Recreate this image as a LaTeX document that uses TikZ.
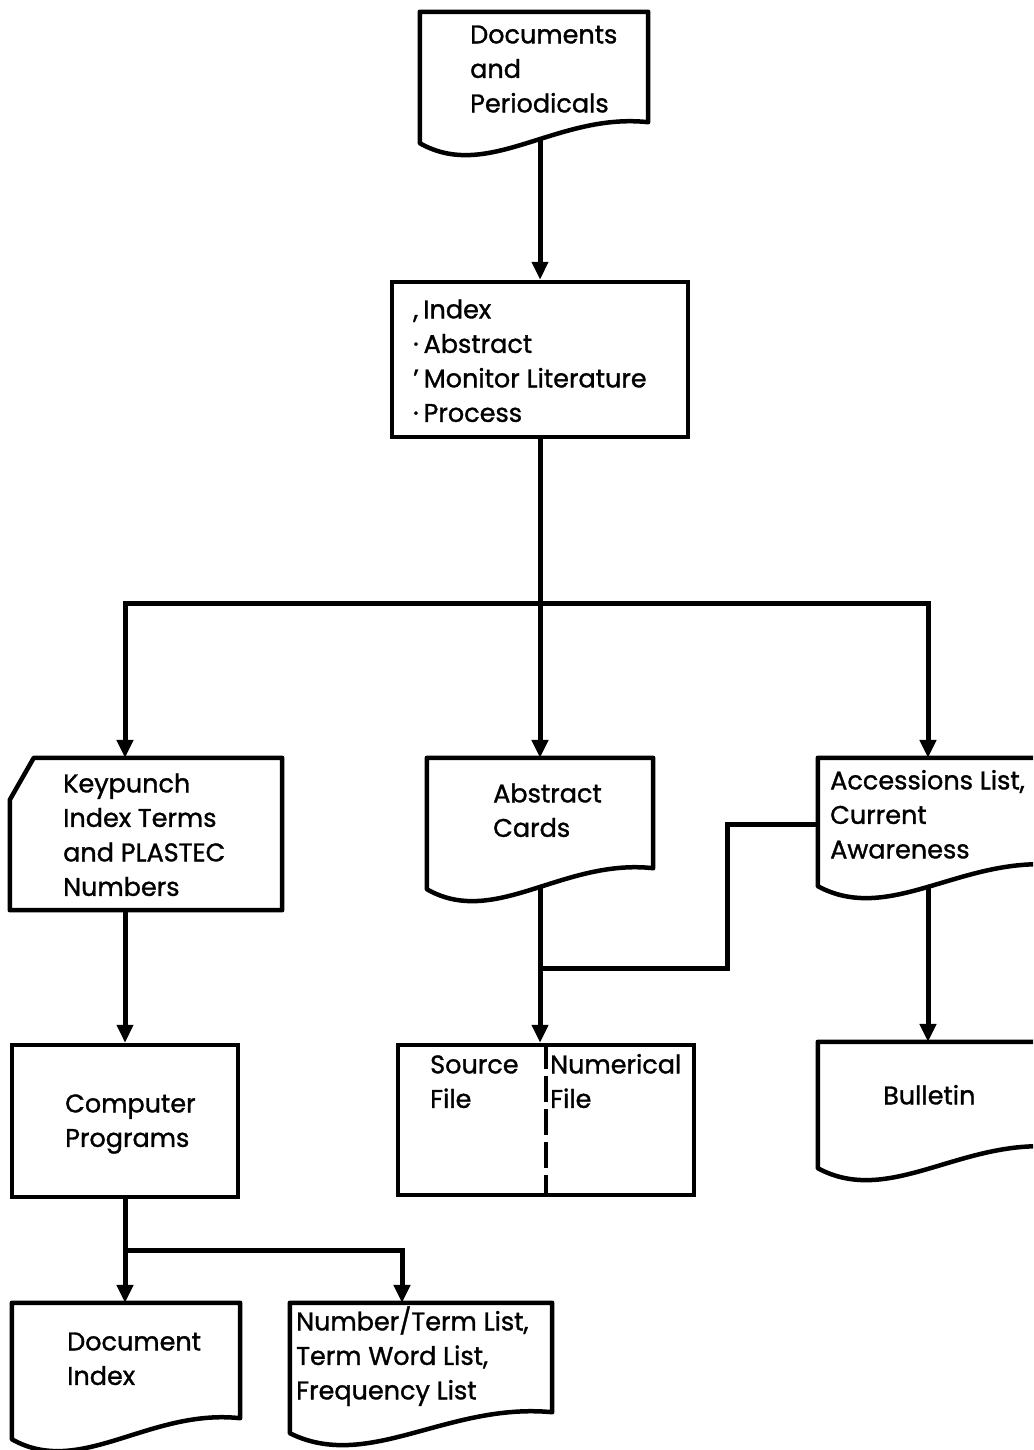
\documentclass[tikz,border=0pt]{standalone}
\usepackage{fontspec}
\setmainfont{Poppins}[FakeBold=1.2]
\usetikzlibrary{arrows.meta,calc,backgrounds}
\tikzset{
  box/.style={rectangle,draw,line width=4.5pt,fill=white,inner sep=0pt},
  docnode/.style={rectangle,inner sep=0pt},
  outline/.style={line width=4.5pt,line join=round,fill=white},
  lbl/.style={anchor=north west,align=left,inner sep=0pt,font=\lblfont},
  link/.style={line width=5pt},
  edge/.style={link,-{Triangle[length=18pt,width=16pt]}},
  divider/.style={line width=3.5pt,dash pattern=on 26pt off 7pt},
}
\newcommand{\lblfont}{\fontsize{25.5}{34.5}\selectfont}
\newcommand{\mk}{\hspace{5pt}}
% document symbol: wavy bottom, left corner lower than the right one
\newcommand{\docout}[1]{%
  \draw[outline] (#1.north west) -- (#1.north east) -- (#1.south east)
    .. controls ($(#1.south east)!0.4!(#1.south west)+(0,-10)$)
    and ($(#1.south east)!0.7!(#1.south west)+(0,60)$) .. ($(#1.south west)+(0,21)$) -- cycle;}
% punched card: top left corner cut off
\newcommand{\cardout}[1]{%
  \draw[outline] ($(#1.north west)+(24,0)$) -- (#1.north east) -- (#1.south east)
    -- (#1.south west) -- ($(#1.north west)+(0,42)$) -- cycle;}

\begin{document}
\begin{tikzpicture}[x=1pt,y=-1pt]
  \useasboundingbox (0,0) rectangle (1033,1450);
  \clip (0,0) rectangle (1033,1450);

  % input
  \node[docnode,minimum width=228pt,minimum height=110pt] (docs) at (534,67) {};
  \docout{docs}
  \node[lbl] (docs-t) at (470,19) {\strut Documents\\and\\Periodicals};

  \node[box,minimum width=296pt,minimum height=155pt] (proc) at (540,359.5) {};
  \node[lbl] (proc-t) at (413,294) {\strut ,\mk Index\\·\mk Abstract\\’\mk Monitor Literature\\·\mk Process};

  % three branches
  \node[docnode,minimum width=272pt,minimum height=152pt] (key) at (146,834) {};
  \cardout{key}
  \node[lbl] (key-t) at (63,768) {\strut Keypunch\\Index Terms\\and PLASTEC\\Numbers};

  \node[docnode,minimum width=226pt,minimum height=110pt] (cards) at (540,813) {};
  \docout{cards}
  \node[lbl] (cards-t) at (493,778) {\strut Abstract\\Cards};

  \node[docnode,minimum width=240pt,minimum height=107pt] (acc) at (938,811.5) {};
  \docout{acc}
  \node[lbl] (acc-t) at (830,765) {\strut Accessions List,\\Current\\Awareness};

  % files and outputs
  \node[box,minimum width=226pt,minimum height=152pt] (comp) at (125,1121) {};
  \node[lbl] (comp-t) at (65,1088) {\strut Computer\\Programs};

  \node[box,minimum width=296pt,minimum height=150pt] (files) at (546,1120) {};
  \draw[divider] (files.north) -- (files.south);
  \node[lbl] (src-t) at (430,1049) {\strut Source\\File};
  \node[lbl] (num-t) at (550,1049) {\strut Numerical\\File};

  \node[docnode,minimum width=240pt,minimum height=105pt] (bull) at (938,1094.5) {};
  \docout{bull}
  \node[lbl] (bull-t) at (883,1080) {\strut Bulletin};

  \node[docnode,minimum width=228pt,minimum height=115pt] (dindex) at (126,1360.5) {};
  \docout{dindex}
  \node[lbl] (dindex-t) at (67,1326) {\strut Document\\Index};

  \node[docnode,minimum width=262pt,minimum height=109pt] (lists) at (421,1357.5) {};
  \docout{lists}
  \node[lbl] (lists-t) at (296,1306) {\strut Number/Term List,\\Term Word List,\\Frequency List};

  % connectors
  \coordinate (bus) at (540,603);
  \coordinate (busL) at (125,603);
  \coordinate (busR) at (928,603);
  \coordinate (join) at (540,968);
  \coordinate (bend) at (727,968);
  \coordinate (split) at (125,1250);
  \begin{scope}[on background layer]
    \draw[edge] (proc.north |- docs.center) -- (proc.north);
    \draw[edge] (proc.south) -- (cards.north);
    \draw[edge] (bus) -| (key.north -| busL);
    \draw[edge] (bus) -| (acc.north -| busR);
    \draw[edge] (cards.center) -- (cards.center |- files.north);
    \draw[link] ($(acc.west)+(0,12.5)$) -| (bend) -- (join);
    \draw[edge] (busR |- acc.center) -- (busR |- bull.north);
    \draw[edge] (key.center -| comp.north) -- (comp.north);
    \draw[edge] (comp.south) -- (comp.south |- dindex.north);
    \draw[edge] (split) -| ($(lists.north)+(-19,0)$);
  \end{scope}
\end{tikzpicture}
\end{document}
